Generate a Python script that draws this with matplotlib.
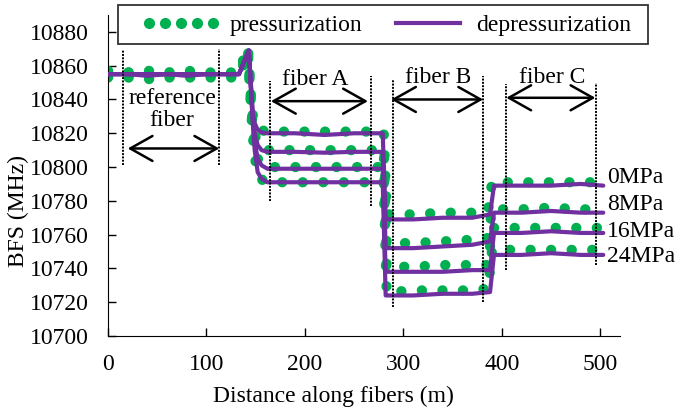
import matplotlib
matplotlib.use('Agg')
import matplotlib.pyplot as plt
from matplotlib.lines import Line2D
from matplotlib.patches import Rectangle

plt.rcParams['font.family'] = ['Liberation Serif', 'DejaVu Serif']
plt.rcParams['font.size'] = 17

# distance points (m) for depressurization curves
dist_dep = [0, 20, 40, 60, 80, 100, 120, 133, 143, 147, 149, 152, 156, 162, 190, 220, 250,
            279, 282, 285, 310, 340, 370, 388, 392, 420, 450, 480, 503]
dep_0 = [10855, 10855, 10854, 10855, 10855, 10855, 10855, 10855, 10869, 10832, 10826, 10822, 10820.5, 10820,
         10820, 10819, 10820, 10820, 10770, 10769, 10769, 10770, 10770, 10772, 10789, 10789, 10789, 10790, 10789]
dep_8 = [10855, 10855, 10855, 10855, 10854, 10855, 10855, 10855, 10869, 10830, 10820, 10813, 10810, 10809,
         10809, 10808.5, 10809, 10809, 10752, 10752, 10752, 10753, 10754, 10756, 10773, 10773, 10774, 10773, 10773]
dep_16 = [10855, 10855, 10855, 10855, 10855, 10855, 10855, 10855, 10869, 10828, 10815, 10805, 10801, 10799,
          10799, 10799, 10799, 10799, 10738, 10738, 10738, 10738, 10739, 10739, 10761, 10761, 10762, 10761, 10761]
dep_24 = [10855, 10855, 10855, 10855, 10855, 10855, 10855, 10855, 10869, 10826, 10810, 10797, 10793, 10791,
          10791, 10791, 10791, 10791, 10724, 10724, 10724, 10725, 10725, 10726, 10748, 10748, 10749, 10748, 10748]

# distance points (m) for pressurization curves
dist_pre = [0, 20, 40, 60, 80, 100, 120, 133, 142, 146, 148, 151, 155, 161, 190, 220, 250,
            280, 283, 286, 310, 340, 370, 386, 390, 420, 450, 480, 500]
pre_0 = [10857, 10856, 10857, 10856, 10857, 10856, 10856, 10856, 10871, 10834, 10828, 10824, 10822, 10821,
         10821, 10821, 10821, 10821, 10772, 10772, 10772, 10773, 10773, 10774, 10791, 10791, 10791, 10791, 10791]
pre_8 = [10855, 10856, 10855, 10855, 10856, 10855, 10855, 10855, 10870, 10832, 10822, 10815, 10812, 10810,
         10810, 10810, 10810, 10810, 10755, 10755, 10755, 10756, 10757, 10758, 10775, 10775, 10776, 10775, 10775]
pre_16 = [10854, 10854, 10855, 10854, 10854, 10854, 10854, 10854, 10869, 10830, 10817, 10806, 10802, 10800,
          10800, 10800, 10800, 10800, 10741, 10741, 10741, 10742, 10742, 10742, 10764, 10764, 10764, 10764, 10764]
pre_24 = [10853, 10853, 10852, 10853, 10853, 10853, 10853, 10853, 10868, 10828, 10812, 10798, 10793, 10791,
          10791, 10791, 10791, 10791, 10726, 10726, 10727, 10727, 10727, 10728, 10751, 10751, 10751, 10751, 10751]

pressures = ['0MPa', '8MPa', '16MPa', '24MPa']
press_y = [10794, 10778, 10762, 10747]

# fiber sections: (label, text x, text y, arrow start, arrow end, arrow y)
sections = [('reference\nfiber', 65, 10834, 20, 113, 10811),
            ('fiber A', 210, 10852, 165.5, 264, 10839),
            ('fiber B', 335, 10853, 287.5, 381, 10840),
            ('fiber C', 451, 10853, 404.5, 495, 10841)]
# dotted markers: (x, y bottom, y top)
vlines = [(15.5, 10801, 10869), (112.8, 10801, 10870),
          (164.6, 10780, 10851), (267, 10777, 10854),
          (289, 10717, 10852), (381, 10720, 10854),
          (404, 10739, 10849), (495.5, 10742, 10850)]

green = '#00B050'
purple = '#7030A0'

fig = plt.figure(figsize=(6.8, 4.08), dpi=100)
ax = fig.add_axes([108 / 680, 1 - 336 / 408, 512 / 680, 321 / 408])

for ys in [pre_0, pre_8, pre_16, pre_24]:
    ax.plot(dist_pre, ys, color=green, lw=7.4, ls=(0, (0.01, 1.99)),
            dash_capstyle='round', zorder=2)
for ys in [dep_0, dep_8, dep_16, dep_24]:
    ax.plot(dist_dep, ys, color=purple, lw=3, solid_capstyle='round', zorder=3)

for x, y0, y1 in vlines:
    ax.plot([x, x], [y0, y1], color='black', lw=1.4, ls=(0, (1, 0.7)), zorder=4)

for lab, tx, ty, a0, a1, ay in sections:
    ax.text(tx, ty, lab, ha='center', va='center', linespacing=1.05)
    ax.annotate('', xy=(a0, ay), xytext=(a1, ay),
                arrowprops=dict(arrowstyle='<->, head_length=0.8, head_width=0.45',
                                lw=1.8, color='black', mutation_scale=20,
                                shrinkA=0, shrinkB=0))

for lab, y in zip(pressures, press_y):
    ax.text(507, y, lab, ha='left', va='center', clip_on=False)

ax.set_xlim(0, 520)
ax.set_ylim(10700, 10890)
ax.set_xticks([0, 100, 200, 300, 400, 500])
ax.set_yticks(range(10700, 10881, 20))
ax.tick_params(direction='in', length=6, width=1)
ax.tick_params(axis='y', pad=14)
ax.tick_params(axis='x', pad=13)
ax.spines['top'].set_visible(False)
ax.spines['right'].set_visible(False)
ax.set_xlabel('Distance along fibers (m)')
ax.set_ylabel('BFS (MHz)')
ax.xaxis.set_label_coords(0.44, -0.155)
ax.yaxis.set_label_coords(-0.155, 0.39)

# legend box drawn separately so its frame can be wider than the entries
fig.add_artist(Rectangle((118 / 680, 1 - 44 / 408), 530 / 680, 39 / 408, transform=fig.transFigure,
                         facecolor='white', edgecolor='#333333', lw=1.3, zorder=5))
handles = [Line2D([], [], ls='none', marker='o', ms=7, color=green),
           Line2D([], [], color=purple, lw=3)]
leg = fig.legend(handles, ['pressurization', 'depressurization'], ncol=2, numpoints=5,
                 loc='center left', bbox_to_anchor=(142 / 680, 1 - 25 / 408),
                 handlelength=3.3, columnspacing=1.15, handletextpad=0.4,
                 borderpad=0, borderaxespad=0, frameon=False)
leg.set_zorder(6)

fig.savefig('out.png', dpi=100)
